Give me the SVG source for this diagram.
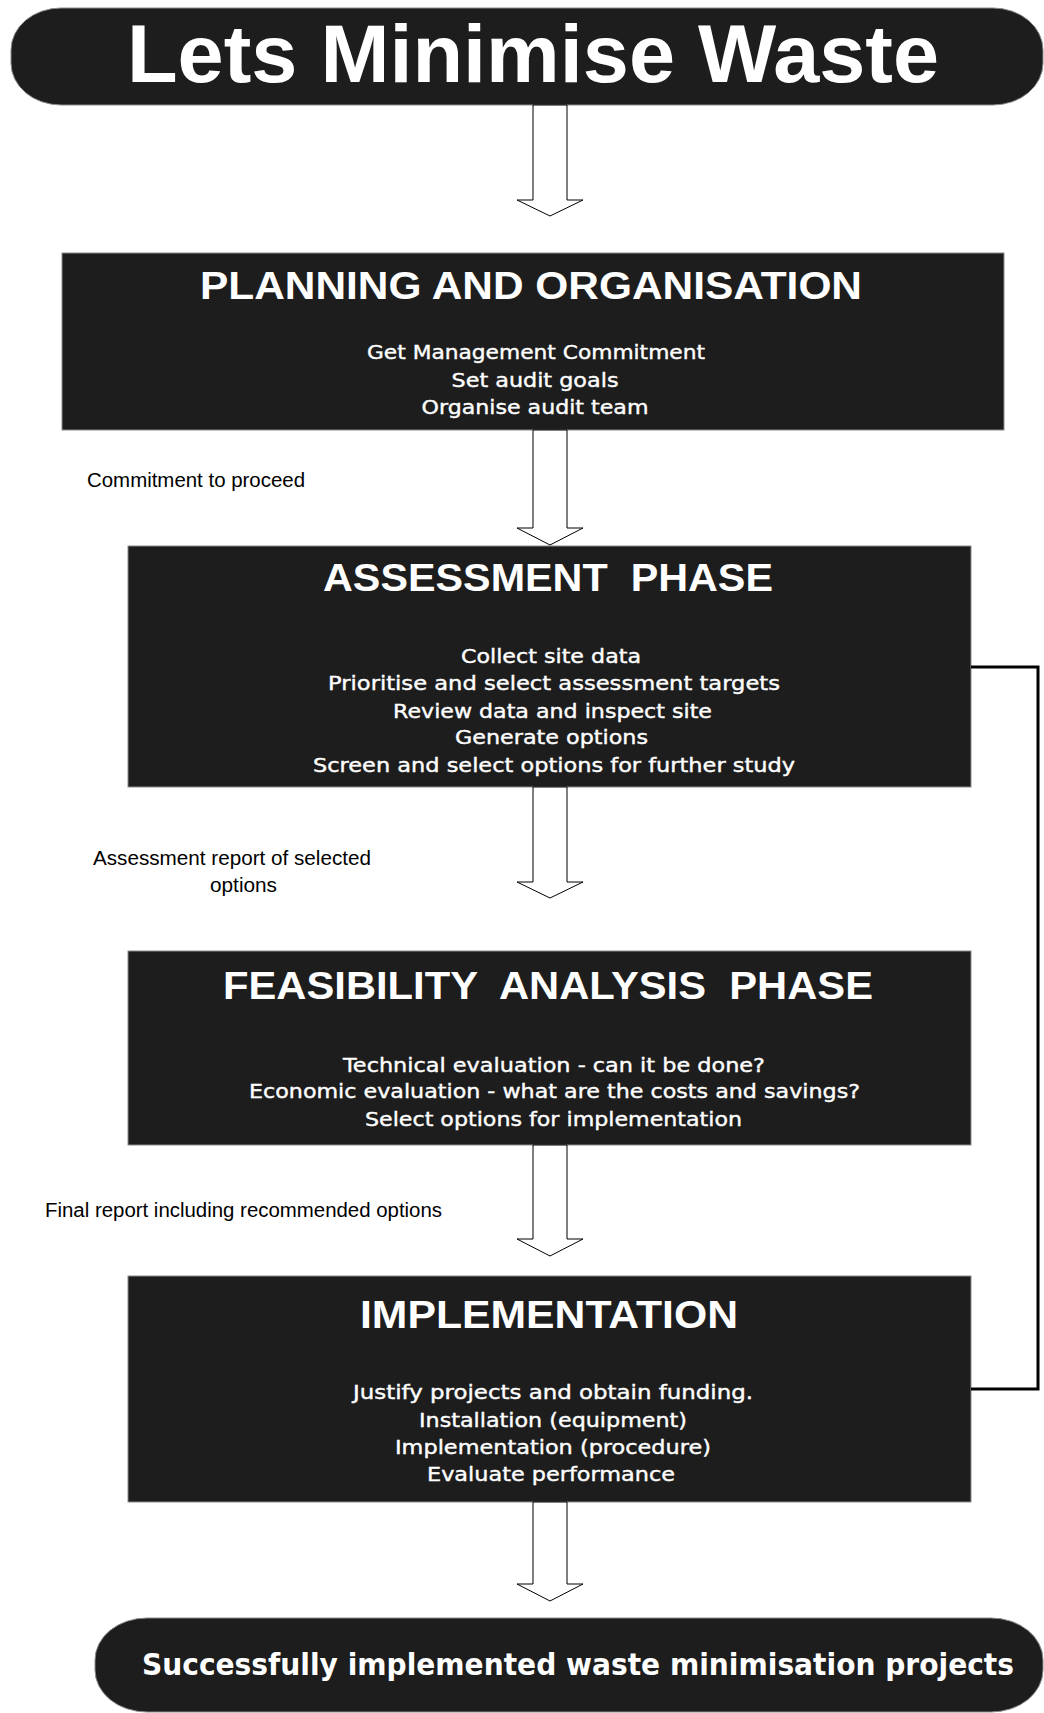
<svg xmlns="http://www.w3.org/2000/svg" width="1044" height="1713" viewBox="0 0 1044 1713">
  <style>
    .bg { fill: #ffffff; }
    .pill { fill: #1d1d1d; stroke: #8a8a8a; stroke-width: 1; }
    .box { fill: #1d1d1d; stroke: #8a8a8a; stroke-width: 1; }
    .title { font-family: "Liberation Sans", Arial, sans-serif; font-weight: 700; font-size: 82px; fill: #ffffff; text-anchor: middle; }
    .head { font-family: "Liberation Sans", Arial, sans-serif; font-weight: 700; font-size: 38px; fill: #ffffff; text-anchor: middle; white-space: pre; }
    .body { font-family: "DejaVu Sans", Verdana, sans-serif; font-size: 20px; fill: #ffffff; stroke: #ffffff; stroke-width: 0.4; text-anchor: middle; }
    .end { font-family: "DejaVu Sans", Verdana, sans-serif; font-weight: 700; font-size: 30px; fill: #ffffff; text-anchor: middle; }
    .label { font-family: "Liberation Sans", Arial, sans-serif; font-size: 20px; fill: #000000; }
    .flow { fill: #ffffff; stroke: #000000; stroke-width: 1; stroke-linejoin: miter; }
    .loop { fill: none; stroke: #000000; stroke-width: 3; }
  </style>

  <rect class="bg" x="0" y="0" width="1044" height="1713"/>

  <!-- start terminal -->
  <g id="start">
    <rect class="pill" x="11" y="8" width="1032" height="97" rx="50" ry="42"/>
    <text class="title" x="533" y="82" textLength="812" lengthAdjust="spacingAndGlyphs">Lets Minimise Waste</text>
  </g>

  <!-- phase 1 -->
  <g id="planning">
    <rect class="box" x="62" y="253" width="942" height="177"/>
    <text class="head" x="531" y="299" textLength="662" lengthAdjust="spacingAndGlyphs">PLANNING AND ORGANISATION</text>
    <text class="body" x="536" y="359" textLength="338" lengthAdjust="spacingAndGlyphs">Get Management Commitment</text>
    <text class="body" x="535" y="387" textLength="167" lengthAdjust="spacingAndGlyphs">Set audit goals</text>
    <text class="body" x="535" y="414" textLength="227" lengthAdjust="spacingAndGlyphs">Organise audit team</text>
  </g>

  <!-- phase 2 -->
  <g id="assessment">
    <rect class="box" x="128" y="546" width="843" height="241"/>
    <text class="head" x="548" y="591" textLength="450" lengthAdjust="spacingAndGlyphs">ASSESSMENT  PHASE</text>
    <text class="body" x="551" y="663" textLength="180" lengthAdjust="spacingAndGlyphs">Collect site data</text>
    <text class="body" x="554" y="690" textLength="452" lengthAdjust="spacingAndGlyphs">Prioritise and select assessment targets</text>
    <text class="body" x="552.5" y="718" textLength="319" lengthAdjust="spacingAndGlyphs">Review data and inspect site</text>
    <text class="body" x="551.5" y="744" textLength="193" lengthAdjust="spacingAndGlyphs">Generate options</text>
    <text class="body" x="554" y="772" textLength="482" lengthAdjust="spacingAndGlyphs">Screen and select options for further study</text>
  </g>

  <!-- phase 3 -->
  <g id="feasibility">
    <rect class="box" x="128" y="951" width="843" height="194"/>
    <text class="head" x="548" y="999" textLength="650" lengthAdjust="spacingAndGlyphs">FEASIBILITY  ANALYSIS  PHASE</text>
    <text class="body" x="554" y="1072" textLength="422" lengthAdjust="spacingAndGlyphs">Technical evaluation - can it be done?</text>
    <text class="body" x="554.5" y="1098" textLength="611" lengthAdjust="spacingAndGlyphs">Economic evaluation - what are the costs and savings?</text>
    <text class="body" x="553.5" y="1126" textLength="377" lengthAdjust="spacingAndGlyphs">Select options for implementation</text>
  </g>

  <!-- phase 4 -->
  <g id="implementation">
    <rect class="box" x="128" y="1276" width="843" height="226"/>
    <text class="head" x="549" y="1328" textLength="378" lengthAdjust="spacingAndGlyphs">IMPLEMENTATION</text>
    <text class="body" x="553" y="1399" textLength="400" lengthAdjust="spacingAndGlyphs">Justify projects and obtain funding.</text>
    <text class="body" x="553" y="1427" textLength="268" lengthAdjust="spacingAndGlyphs">Installation (equipment)</text>
    <text class="body" x="553" y="1454" textLength="316" lengthAdjust="spacingAndGlyphs">Implementation (procedure)</text>
    <text class="body" x="551" y="1481" textLength="248" lengthAdjust="spacingAndGlyphs">Evaluate performance</text>
  </g>

  <!-- end terminal -->
  <g id="finish">
    <rect class="pill" x="95" y="1618" width="948" height="94" rx="52" ry="42"/>
    <text class="end" x="578" y="1675" textLength="872" lengthAdjust="spacingAndGlyphs">Successfully implemented waste minimisation projects</text>
  </g>

  <!-- block arrows, feedback loop and their labels -->
  <g id="connectors">
    <polygon class="flow" points="533,105 567,105 567,200 583,200 550,216 517,200 533,200"/>
    <polygon class="flow" points="533,430 567,430 567,528 583,528 550,545 517,528 533,528"/>
    <polygon class="flow" points="533,787 567,787 567,882 583,882 550,898 517,882 533,882"/>
    <polygon class="flow" points="533,1145 567,1145 567,1239 583,1239 550,1256 517,1239 533,1239"/>
    <polygon class="flow" points="533,1502 567,1502 567,1584 583,1584 550,1601 517,1584 533,1584"/>
    <polyline class="loop" points="971,667 1038,667 1038,1389 971,1389"/>

    <text class="label" x="87" y="487" textLength="218" lengthAdjust="spacingAndGlyphs">Commitment to proceed</text>
    <text class="label" x="93" y="865" textLength="278" lengthAdjust="spacingAndGlyphs">Assessment report of selected</text>
    <text class="label" x="210" y="892" textLength="67" lengthAdjust="spacingAndGlyphs">options</text>
    <text class="label" x="45" y="1217" textLength="397" lengthAdjust="spacingAndGlyphs">Final report including recommended options</text>
  </g>
</svg>
